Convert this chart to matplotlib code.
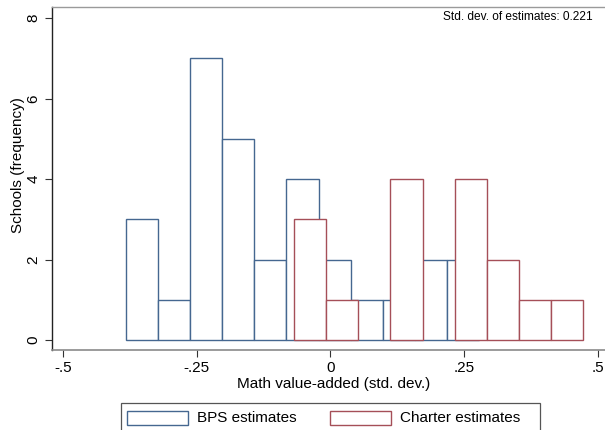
"""
Histogram of math value-added estimates: BPS schools vs. charter schools.
"""

import numpy as np
import matplotlib.pyplot as plt
from matplotlib.patches import Rectangle

plt.rcParams["font.family"] = ["Liberation Sans", "DejaVu Sans"]

# histogram bins (std. dev. units)
BIN_WIDTH = 0.0601
BPS_START = -0.3827
CHARTER_START = -0.0679

bps_counts = [3, 1, 7, 5, 2, 4, 2, 1, 1, 2, 2]
charter_counts = [3, 1, 0, 4, 0, 4, 2, 1, 1]

x_ticks = [-0.5, -0.25, 0, 0.25, 0.5]
x_tick_labels = ["-.5", "-.25", "0", ".25", ".5"]
y_ticks = [0, 2, 4, 6, 8]

sd_note = "Std. dev. of estimates: 0.221"

BLUE = "#456790"
RED = "#a54f58"
FIG_PATH = "out.png"


def draw_bars(ax, start, counts, color, z):
    left = start + BIN_WIDTH * np.arange(len(counts))
    counts = np.asarray(counts)
    keep = counts > 0
    ax.bar(left[keep], counts[keep], width=BIN_WIDTH, align="edge",
           facecolor="white", edgecolor=color, linewidth=1.0, zorder=z)


def main() -> None:
    fig = plt.figure(figsize=(6.05, 4.30), dpi=100)
    ax = fig.add_axes([0.0855, 0.186, 0.9334, 0.797])

    draw_bars(ax, BPS_START, bps_counts, BLUE, 2)
    draw_bars(ax, CHARTER_START, charter_counts, RED, 3)

    ax.set_xlim(-0.521, 0.535)
    ax.set_ylim(-0.25, 8.27)
    ax.set_xticks(x_ticks)
    ax.set_xticklabels(x_tick_labels)
    ax.set_yticks(y_ticks)
    ax.tick_params(axis="both", labelsize=11, length=5, width=0.8,
                   color="#333333", pad=3)
    for lbl in ax.get_yticklabels():
        lbl.set_rotation(90)
        lbl.set_va("center")

    for side in ["top", "right"]:
        ax.spines[side].set_color("#9a9a9a")
        ax.spines[side].set_linewidth(1.0)
    ax.spines["left"].set_color("#222222")
    ax.spines["bottom"].set_color("#8a8a8a")
    ax.spines["left"].set_linewidth(1.0)
    ax.spines["bottom"].set_linewidth(1.2)

    ax.set_xlabel("Math value-added (std. dev.)", fontsize=11, labelpad=1)

    fx = lambda px: px / 605
    fy = lambda py: 1 - py / 430
    fig.text(fx(18), fy(165), "Schools (frequency)", rotation=90,
             ha="center", va="center", fontsize=11)

    fig.text(fx(593), fy(17), sd_note, ha="right", va="center",
             fontsize=8.6)

    # legend box along the bottom edge
    fig.patches.append(Rectangle((fx(120.7), fy(440)), fx(540) - fx(120.7),
                                 fy(402.7) - fy(440), transform=fig.transFigure,
                                 facecolor="white", edgecolor="#555555",
                                 linewidth=0.9))
    for x0, x1, color, label in [(126.7, 188.3, BLUE, "BPS estimates"),
                                 (330.0, 390.7, RED, "Charter estimates")]:
        fig.patches.append(Rectangle((fx(x0), fy(425)), fx(x1) - fx(x0),
                                     fy(410.7) - fy(425),
                                     transform=fig.transFigure,
                                     facecolor="white", edgecolor=color,
                                     linewidth=1.0))
        fig.text(fx(x1 + 9), fy(418), label, ha="left", va="center",
                 fontsize=11)

    fig.savefig(FIG_PATH, dpi=100)
    plt.close(fig)


if __name__ == "__main__":
    main()
